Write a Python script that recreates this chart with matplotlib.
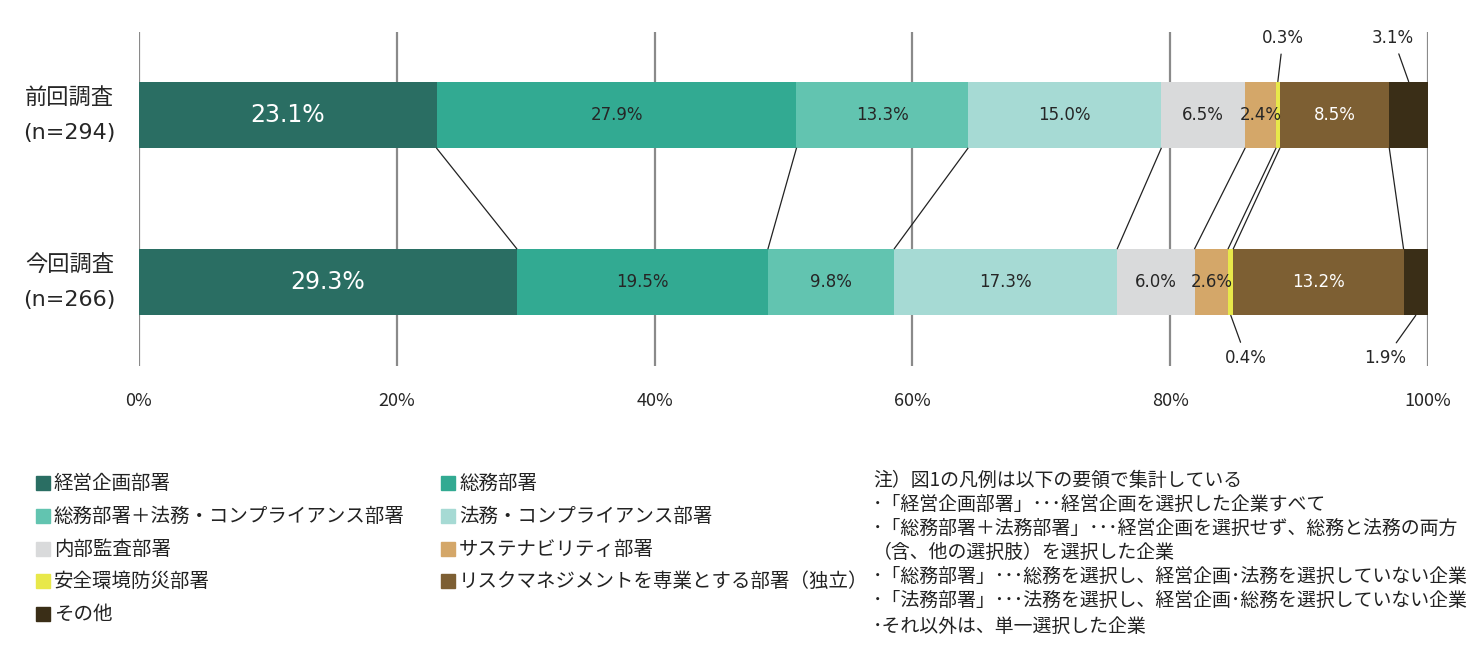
import matplotlib
matplotlib.use("Agg")
import matplotlib.pyplot as plt
from matplotlib.patches import Rectangle
import numpy as np

plt.rcParams['font.family'] = ['Noto Sans CJK JP', 'DejaVu Sans']
NUMFONT = ['DejaVu Sans', 'Noto Sans CJK JP']

categories = ["経営企画部署", "総務部署", "総務部署＋法務・コンプライアンス部署", "法務・コンプライアンス部署",
              "内部監査部署", "サステナビリティ部署", "安全環境防災部署",
              "リスクマネジメントを専業とする部署（独立）", "その他"]
colors = ["#2a6e63", "#32aa92", "#62c4b0", "#a6dad4", "#d9dadb", "#d4a769", "#e8e84a", "#7d5f33", "#3a2e17"]
survey_labels = ["前回調査\n(n=294)", "今回調査\n(n=266)"]
prev_values = [23.1, 27.9, 13.3, 15.0, 6.5, 2.4, 0.3, 8.5, 3.1]
curr_values = [29.3, 19.5, 9.8, 17.3, 6.0, 2.6, 0.4, 13.2, 1.9]
xticks = [0, 20, 40, 60, 80, 100]
xtick_labels = ["0%", "20%", "40%", "60%", "80%", "100%"]
notes = ["注）図1の凡例は以下の要領で集計している",
         "･「経営企画部署」･･･経営企画を選択した企業すべて",
         "･「総務部署＋法務部署」･･･経営企画を選択せず、総務と法務の両方",
         "（含、他の選択肢）を選択した企業",
         "･「総務部署」･･･総務を選択し、経営企画･法務を選択していない企業",
         "･「法務部署」･･･法務を選択し、経営企画･総務を選択していない企業",
         "･それ以外は、単一選択した企業"]

W, H = 1481, 659
fig = plt.figure(figsize=(W / 100, H / 100), dpi=100)
ax = fig.add_axes([139 / W, 1 - 366 / H, (1428 - 139) / W, (366 - 32) / H])

bar_h = 0.40
series = [prev_values, curr_values]
ypos = [0, 1]
for yi, vals in zip(ypos, series):
    left = 0
    for i, v in enumerate(vals):
        ax.barh(yi, v, left=left, height=bar_h, color=colors[i], linewidth=0, zorder=2)
        cx = left + v / 2
        small = (i == 6) or (i == 8)
        if not small:
            if i == 0:
                ax.text(cx, yi, f"{v:.1f}%", ha="center", va="center", color="white",
                        fontsize=17, family=NUMFONT, zorder=4)
            else:
                col = "white" if i == 7 else "#262626"
                ax.text(cx, yi, f"{v:.1f}%", ha="center", va="center", color=col,
                        fontsize=12, family=NUMFONT, zorder=4)
        left += v

# connector lines
cum_prev = np.cumsum(prev_values)[:-1]
cum_curr = np.cumsum(curr_values)[:-1]
for a, b in zip(cum_prev, cum_curr):
    ax.plot([a, b], [0 + bar_h / 2, 1 - bar_h / 2], color="#222222", lw=0.9, zorder=3)

# small labels with leader lines
cp = np.cumsum([0] + prev_values)
cc = np.cumsum([0] + curr_values)
ann = [
    (prev_values[6], (cp[6] + cp[7]) / 2, 0 - bar_h / 2, 88.75, -0.46),
    (prev_values[8], (cp[8] + 100) / 2, 0 - bar_h / 2, 97.3, -0.46),
    (curr_values[6], (cc[6] + cc[7]) / 2, 1 + bar_h / 2, 85.9, 1.455),
    (curr_values[8], (cc[8] + cc[9]) / 2, 1 + bar_h / 2, 96.7, 1.455),
]
for v, x0, y0, tx, ty in ann:
    ax.annotate(f"{v:.1f}%", xy=(x0, y0), xytext=(tx, ty), ha="center", va="center",
                fontsize=12, color="#262626", family=NUMFONT,
                arrowprops=dict(arrowstyle="-", color="#222222", lw=0.9, shrinkA=3, shrinkB=0))

ax.set_xlim(0, 100)
ax.set_ylim(1.503, -0.497)
ax.set_xticks(xticks)
ax.set_xticklabels(xtick_labels, fontsize=13, color="#262626")
ax.set_yticks(ypos)
ax.set_yticklabels(survey_labels, fontsize=16, color="#262626", linespacing=1.9, ha="center",
                   va="center", family=NUMFONT)
ax.tick_params(axis="y", length=0, pad=50)
ax.tick_params(axis="x", length=0, pad=19)
ax.grid(axis="x", color="#8a8a8a", lw=1.6, zorder=0)
ax.set_axisbelow(True)
for s in ax.spines.values():
    s.set_visible(False)

# legend (manual, two columns, row-wise)
col_x = [36, 441]
row_y = [483, 516, 549, 581, 614]
for i, (lab, c) in enumerate(zip(categories, colors)):
    r, col = divmod(i, 2)
    x, y = col_x[col], row_y[r]
    fig.patches.append(Rectangle((x / W, 1 - (y + 7) / H), 14 / W, 14 / H,
                                 transform=fig.transFigure, color=c))
    fig.text((x + 18) / W, 1 - y / H, lab, ha="left", va="center", fontsize=14, color="#222222")

# notes
note_y = [480, 504, 528, 552, 576, 600, 626]
for t, y in zip(notes, note_y):
    fig.text(873 / W, 1 - y / H, t, ha="left", va="center", fontsize=13.6, color="#222222")

fig.savefig("out.png", dpi=100)
